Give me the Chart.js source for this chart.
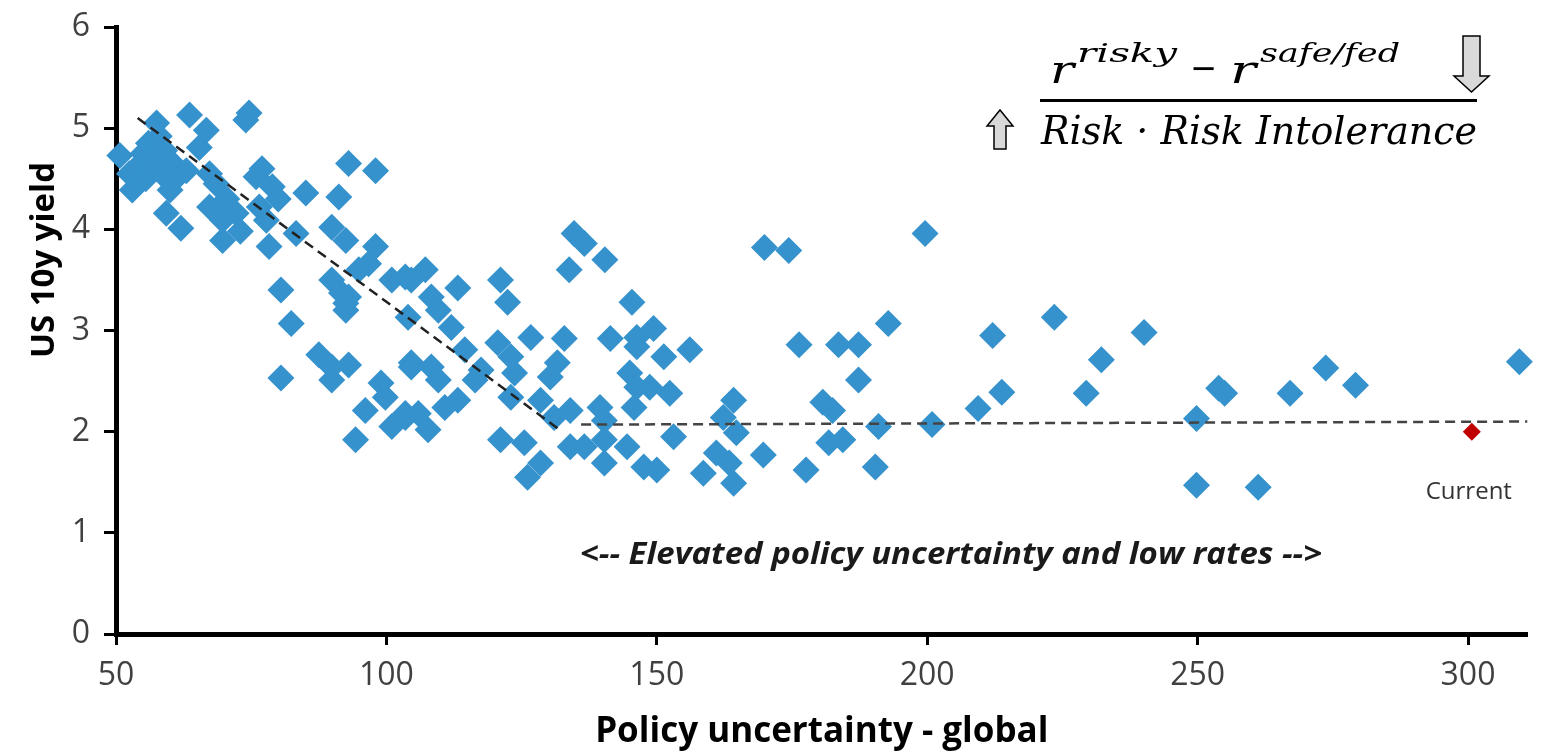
<!DOCTYPE html>
<html>
<head>
<meta charset="utf-8">
<script src="https://cdn.jsdelivr.net/npm/chart.js@4.4.1/dist/chart.umd.min.js"></script>
<style>
  body { margin: 0; background: #fff; }
  #wrap { width: 1541px; height: 754px; position: relative; }
</style>
</head>
<body>
<div id="wrap"><canvas id="chart"></canvas></div>
<script>
// policy uncertainty (x) vs US 10y yield (y)
const policyX = [
  50.7, 52.5, 53, 54, 55, 55.5, 56, 56.5, 57.5, 57, 58, 58.5, 59, 59.3, 60, 60.5, 61, 62, 63, 63.6,
  65.4, 66.7, 67.3, 67.3, 68.5, 69.7, 69.7, 70.5, 72.2, 74, 74.6, 73, 75.9, 76.5, 77, 77.8, 78.3, 78.9, 80, 80.5,
  82.4, 80.5, 83.3, 85.1, 87.5, 89.9, 89.9, 89.9, 89.9, 91.2, 91.7, 92.5, 92.5, 92.5, 93, 93, 93, 94.3, 94.9, 96.1,
  96.7, 98, 98, 99, 99.8, 101, 101, 103.5, 103.5, 103.5, 104, 104.6, 104.6, 104.6, 105.9, 107.2, 107.7, 108.3, 108.3, 109.6,
  109.6, 110.8, 112, 113.2, 113.2, 114.5, 116.4, 117.5, 120.6, 121.1, 121.1, 122.4, 123, 123, 123.7, 125.5, 126.1, 126.7, 128.5, 128.5,
  130.3, 131, 131.6, 132.9, 133.8, 134, 134, 134.7, 136.6, 136.6, 139.5, 140.3, 140.3, 140.3, 140.4, 141.4, 144.5, 145, 145.4, 145.8,
  146.3, 146.3, 146.3, 147.6, 148.7, 149.4, 150, 151.3, 152.4, 153.1, 156.1, 158.6, 161, 162.3, 163.4, 164.2, 164.2, 164.7, 169.7, 169.9,
  174.4, 176.3, 177.6, 180.7, 181.8, 182.5, 183.6, 184.4, 187.3, 187.3, 190.4, 191, 192.8, 199.6, 200.9, 209.4, 212.1, 213.8, 223.5, 229.4,
  232.2, 240.1, 249.8, 249.8, 253.9, 255, 261.2, 267.1, 273.7, 279.2, 309.5
];
const yieldY = [
  4.73, 4.55, 4.39, 4.62, 4.75, 4.5, 4.85, 4.6, 5.05, 4.7, 4.92, 4.55, 4.78, 4.16, 4.39, 4.65, 4.5, 4.01, 4.58, 5.13,
  4.81, 4.98, 4.55, 4.22, 4.45, 4.09, 3.89, 4.3, 4.16, 5.08, 5.15, 3.98, 4.52, 4.22, 4.6, 4.09, 3.83, 4.42, 4.3, 3.4,
  3.07, 2.53, 3.96, 4.36, 2.76, 4.02, 3.5, 2.64, 2.51, 4.32, 3.37, 3.89, 3.2, 3.27, 4.65, 3.33, 2.66, 1.92, 3.6, 2.21,
  3.66, 4.58, 3.83, 2.48, 2.34, 3.5, 2.05, 3.53, 2.18, 2.14, 3.13, 3.5, 2.68, 2.64, 2.18, 3.6, 2.02, 3.33, 2.64, 3.2,
  2.51, 2.24, 3.03, 3.42, 2.31, 2.81, 2.51, 2.61, 2.88, 3.5, 1.92, 3.28, 2.74, 2.34, 2.58, 1.89, 1.55, 2.93, 2.31, 1.69,
  2.54, 2.14, 2.68, 2.92, 3.6, 2.21, 1.85, 3.96, 3.86, 1.85, 2.24, 2.11, 1.92, 1.69, 3.7, 2.92, 1.85, 2.58, 3.28, 2.24,
  2.93, 2.84, 2.44, 1.65, 2.44, 3.02, 1.62, 2.74, 2.38, 1.95, 2.81, 1.59, 1.79, 2.14, 1.69, 2.31, 1.49, 1.99, 1.77, 3.82,
  3.79, 2.86, 1.62, 2.29, 1.89, 2.21, 2.86, 1.92, 2.86, 2.51, 1.65, 2.05, 3.07, 3.96, 2.07, 2.23, 2.95, 2.39, 3.13, 2.38,
  2.71, 2.98, 2.13, 1.47, 2.43, 2.38, 1.45, 2.38, 2.63, 2.46, 2.69
];
const currentX = [300.7];
const currentY = [2.0];
const trendX1 = [54, 132];
const trendY1 = [5.1, 2.02];
const trendX2 = [136, 311];
const trendY2 = [2.07, 2.1];
const xTicks = [50, 100, 150, 200, 250, 300];
const yTicks = [0, 1, 2, 3, 4, 5, 6];

const toPts = (xs, ys) => xs.map((x, i) => ({ x: x, y: ys[i] }));

// draw text squeezed/stretched to a target width
function fitText(ctx, txt, x, y, width) {
  const w = ctx.measureText(txt).width;
  ctx.save();
  ctx.translate(x, y);
  ctx.scale(width / w, 1);
  ctx.fillText(txt, 0, 0);
  ctx.restore();
}

// text + arrows drawn on top of the chart
const notes = {
  id: 'notes',
  afterDraw(chart) {
    const ctx = chart.ctx;
    const xs = chart.scales.x, ys = chart.scales.y;
    ctx.save();

    // y axis title sits above the axis middle in the original
    ctx.fillStyle = '#000';
    ctx.font = 'bold 33px "Open Sans"';
    ctx.textAlign = 'center';
    ctx.textBaseline = 'middle';
    ctx.save();
    ctx.translate(45, 260);
    ctx.rotate(-Math.PI / 2);
    ctx.fillText('US 10y yield', 0, 0);
    ctx.restore();

    ctx.fillStyle = '#1a1a1a';
    ctx.font = 'italic bold 30px "Open Sans"';
    ctx.textAlign = 'left';
    fitText(ctx, '<-- Elevated policy uncertainty and low rates -->', 580, 555, 742);

    ctx.fillStyle = '#333';
    ctx.font = '24px "Open Sans"';
    ctx.textAlign = 'center';
    ctx.fillText('Current', xs.getPixelForValue(currentX[0]) - 3, ys.getPixelForValue(currentY[0]) + 60);

    // formula
    ctx.fillStyle = '#000';
    ctx.textAlign = 'left';
    ctx.textBaseline = 'alphabetic';
    ctx.font = 'italic 40px "DejaVu Serif"';
    fitText(ctx, 'r', 1050, 83, 24);
    fitText(ctx, 'r', 1230, 83, 26);
    ctx.font = '36px "DejaVu Serif"';
    fitText(ctx, '\u2212', 1190, 80, 27);
    ctx.font = 'italic 26px "DejaVu Serif"';
    fitText(ctx, 'risky', 1077, 62, 100);
    fitText(ctx, 'safe/fed', 1260, 62, 140);

    ctx.fillRect(1040, 99, 437, 3);

    ctx.font = 'italic 39px "DejaVu Serif"';
    fitText(ctx, 'Risk \u00b7 Risk Intolerance', 1041, 144, 436);

    // arrows
    ctx.fillStyle = '#d9d9d9';
    ctx.strokeStyle = '#000';
    ctx.lineWidth = 1.5;
    ctx.beginPath();
    ctx.moveTo(1463, 36); ctx.lineTo(1480, 36); ctx.lineTo(1480, 76);
    ctx.lineTo(1489, 76); ctx.lineTo(1471.5, 92); ctx.lineTo(1454, 76);
    ctx.lineTo(1463, 76); ctx.closePath();
    ctx.fill(); ctx.stroke();

    ctx.beginPath();
    ctx.moveTo(994, 149); ctx.lineTo(1006, 149); ctx.lineTo(1006, 126);
    ctx.lineTo(1013, 126); ctx.lineTo(1000, 110); ctx.lineTo(987, 126);
    ctx.lineTo(994, 126); ctx.closePath();
    ctx.fill(); ctx.stroke();
    ctx.restore();
  }
};

new Chart(document.getElementById('chart'), {
  type: 'scatter',
  data: {
    datasets: [
      {
        type: 'line', data: toPts(trendX1, trendY1), borderColor: '#222', borderWidth: 2.5,
        borderDash: [10, 6], pointRadius: 0, fill: false
      },
      {
        type: 'line', data: toPts(trendX2, trendY2), borderColor: '#444', borderWidth: 2.5,
        borderDash: [10, 6], pointRadius: 0, fill: false
      },
      {
        data: toPts(currentX, currentY), pointStyle: 'rectRot', pointRadius: 9,
        backgroundColor: '#c00000', borderWidth: 0, clip: false
      },
      {
        data: toPts(policyX, yieldY), pointStyle: 'rectRot', pointRadius: 13.5,
        backgroundColor: '#3592cd', borderWidth: 0, clip: false
      }
    ]
  },
  options: {
    responsive: true,
    maintainAspectRatio: false,
    animation: false,
    layout: { padding: { top: 27, right: 10, left: 0, bottom: 0 } },
    plugins: { legend: { display: false }, tooltip: { enabled: false } },
    scales: {
      x: {
        type: 'linear', min: 50, max: 311,
        afterBuildTicks: s => { s.ticks = xTicks.map(v => ({ value: v })); },
        afterFit: s => { s.height = 120; s.paddingLeft = 0; s.paddingRight = 0; },
        border: { display: true, color: '#000', width: 5 },
        grid: { drawOnChartArea: false, tickLength: 11, tickColor: '#000', tickWidth: 3 },
        ticks: { color: '#404040', padding: 12, font: { family: '"Open Sans"', size: 32 } },
        title: { display: true, text: 'Policy uncertainty - global', color: '#000', padding: { top: 0, bottom: 1 },
                 font: { family: '"Open Sans"', size: 35, weight: 'bold' } }
      },
      y: {
        min: 0, max: 6,
        afterBuildTicks: s => { s.ticks = yTicks.map(v => ({ value: v })); },
        afterFit: s => { s.width = 116; s.paddingTop = 0; s.paddingBottom = 0; },
        border: { display: true, color: '#000', width: 5 },
        grid: { drawOnChartArea: false, tickLength: 12, tickColor: '#000', tickWidth: 3 },
        ticks: { color: '#404040', padding: 14, font: { family: '"Open Sans"', size: 32 } },
        title: { display: false, text: 'US 10y yield' }
      }
    }
  },
  plugins: [notes]
});
</script>
</body>
</html>
